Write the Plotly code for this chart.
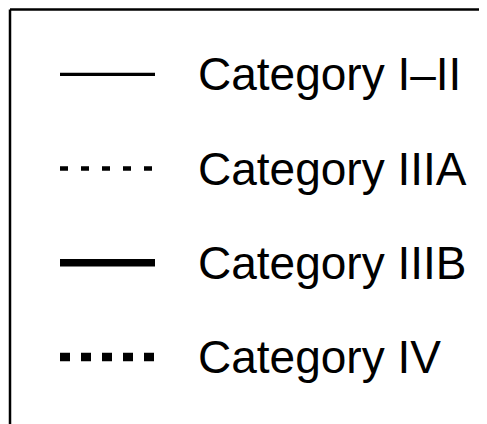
import plotly.graph_objects as go

# Legend content
categories = ["Category I–II", "Category IIIA", "Category IIIB", "Category IV"]
row_index = [0, 1, 2, 3]

# Styles per category
line_widths = [3.3, 4.5, 7.5, 8.5]
line_dashes = ["solid", "8px,13px", "solid", "10px,11px"]

# Layout constants (pixel-like x axis, row-index y axis); page has an 8px body margin
SAMPLE_X0, SAMPLE_X1 = 52, 147
TEXT_X = 188

fig = go.Figure()
for name, r, w, d in zip(categories, row_index, line_widths, line_dashes):
    fig.add_trace(go.Scatter(
        x=[SAMPLE_X0, SAMPLE_X1], y=[r, r], mode="lines",
        line=dict(color="black", width=w, dash=d),
        showlegend=False, hoverinfo="skip",
    ))

for name, r in zip(categories, row_index):
    fig.add_annotation(
        x=TEXT_X, y=r, xref="x", yref="y", text=name, showarrow=False,
        xanchor="left", yanchor="middle",
        font=dict(family="Liberation Sans, Arial, sans-serif", size=46, color="black"),
    )

# Frame (left and top border)
TOP = (424 - 1.5) / 424
fig.add_shape(type="line", xref="x", yref="paper", x0=2, x1=2, y0=-0.05,
              y1=TOP, line=dict(color="black", width=2.5))
fig.add_shape(type="line", xref="x", yref="paper", x0=2, x1=500,
              y0=TOP, y1=TOP, line=dict(color="black", width=2.5))

fig.update_xaxes(range=[0, 487], visible=False, fixedrange=True)
fig.update_yaxes(range=[3.796, -0.7036], visible=False, fixedrange=True)
fig.update_layout(
    width=487, height=424,
    margin=dict(l=0, r=0, t=0, b=0),
    paper_bgcolor="white", plot_bgcolor="white",
    showlegend=False,
)
fig.write_html("out.html")
